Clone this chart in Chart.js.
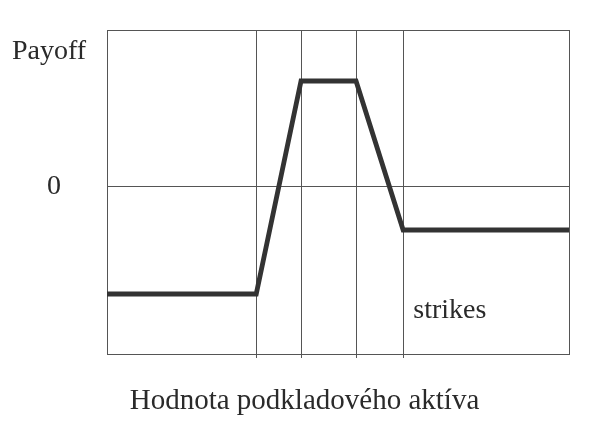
<!DOCTYPE html>
<html>
<head>
<meta charset="utf-8">
<script src="https://cdn.jsdelivr.net/npm/chart.js@4/dist/chart.umd.min.js"></script>
<style>
  html, body { margin: 0; padding: 0; background: #ffffff; }
  #wrap { width: 605px; height: 423px; }
</style>
</head>
<body>
<div id="wrap"><canvas id="c" width="605" height="423"></canvas></div>
<script>
// ---- data (arbitrary units) ----
const payoffX = [0, 32.3, 42.0, 53.9, 64.1, 100];
const payoffY = [-10.75, -10.75, 10.55, 10.55, -4.35, -4.35];
const strikeLevels = [32.3, 42.0, 53.9, 64.1];
const xRange = [0, 100];
const yRange = [-16.75, 15.65];
const yTickValues = [0];
const yTickLabels = ['0'];
const yAxisLabel = 'Payoff';
const xAxisLabel = 'Hodnota podkladového aktíva';
const strikeLabel = 'strikes';
const strikeLabelPos = [74.2, -12.4];

const FONT = "'Liberation Serif', 'Times New Roman', serif";
const TEXT = '#2a2a2a';
const GRID = '#555555';

const textPlugin = {
  id: 'texts',
  afterDraw(chart) {
    const ctx = chart.ctx;
    const xs = chart.scales.x, ys = chart.scales.y;
    ctx.save();
    ctx.fillStyle = TEXT;
    ctx.font = '28px ' + FONT;
    ctx.textAlign = 'left';
    ctx.textBaseline = 'alphabetic';
    ctx.fillText(yAxisLabel, 12, 59);
    ctx.textAlign = 'center';
    ctx.textBaseline = 'middle';
    ctx.fillText(strikeLabel, xs.getPixelForValue(strikeLabelPos[0]), ys.getPixelForValue(strikeLabelPos[1]));
    ctx.font = '29px ' + FONT;
    ctx.textBaseline = 'alphabetic';
    ctx.fillText(xAxisLabel, chart.width / 2 + 2, 409);
    ctx.restore();
  }
};

new Chart(document.getElementById('c'), {
  type: 'line',
  data: {
    datasets: [{
      data: payoffX.map((x, i) => ({ x: x, y: payoffY[i] })),
      borderColor: '#333333',
      borderWidth: 4.8,
      pointRadius: 0,
      fill: false,
      tension: 0,
      borderJoinStyle: 'miter'
    }]
  },
  options: {
    responsive: false,
    animation: false,
    layout: { autoPadding: false, padding: { left: 47, right: 36, top: 30, bottom: 0 } },
    plugins: {
      legend: { display: false },
      tooltip: { enabled: false },
      title: { display: false }
    },
    scales: {
      x: {
        type: 'linear',
        min: xRange[0], max: xRange[1],
        afterBuildTicks: (s) => { s.ticks = [xRange[0], ...strikeLevels, xRange[1]].map(v => ({ value: v })); },
        afterFit: (s) => { s.height = 69; },
        ticks: { display: false },
        grid: {
          color: GRID, lineWidth: 1,
          drawTicks: true, tickLength: 4,
          tickColor: (c) => (c.tick && (c.tick.value === xRange[0] || c.tick.value === xRange[1])) ? 'rgba(0,0,0,0)' : GRID
        },
        border: { display: true, color: GRID, width: 1 }
      },
      y: {
        type: 'linear',
        min: yRange[0], max: yRange[1],
        afterBuildTicks: (s) => { s.ticks = [yRange[0], ...yTickValues, yRange[1]].map(v => ({ value: v })); },
        afterFit: (s) => { s.width = 60; },
        ticks: {
          padding: 0,
          crossAlign: 'far',
          color: TEXT,
          font: { family: FONT, size: 28 },
          callback: (v) => { const i = yTickValues.indexOf(v); return i >= 0 ? yTickLabels[i] : ''; }
        },
        grid: { color: GRID, lineWidth: 1, drawTicks: false },
        border: { display: true, color: GRID, width: 1 }
      }
    }
  },
  plugins: [textPlugin]
});
</script>
</body>
</html>
